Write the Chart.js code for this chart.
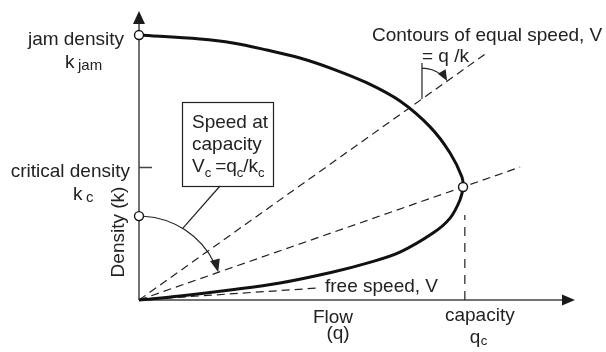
<!DOCTYPE html>
<html>
<head>
<meta charset="utf-8">
<script src="https://cdn.jsdelivr.net/npm/chart.js@4.4.0/dist/chart.umd.min.js"></script>
<style>
  html, body { margin: 0; padding: 0; background: #fff; }
  #wrap { width: 606px; height: 352px; }
</style>
</head>
<body>
<div id="wrap"><canvas id="fundamental"></canvas></div>
<script>
// flow-density curve (q in veh/h, k in veh/km)
const curveFlow = [0, 228, 506, 783, 1078, 1267, 1450, 1633, 1728, 1783, 1800, 1794, 1728, 1617, 1450, 1267, 1078, 894, 711, 522, 339, 0];
const curveDensity = [0, 1.8, 4.5, 7.7, 12.7, 16.7, 21.7, 30.3, 37.1, 45.3, 51.2, 55.7, 66.6, 78.4, 90.1, 98.3, 104.6, 109.6, 113.2, 116.4, 118.2, 120];

const jamDensity = 120;
const criticalDensity = 60;
const capacityFlow = 1800;
const capacityDensity = 51.2;
const capacityLineFlow = 1810;
const capacityLineTop = 38.5;
const speedArcDensity = 38;

// dashed rays from the origin, [flow, density] at the far end
const contourRay = [1939, 112.3];
const capacityRay = [2117, 60.2];
const freeSpeedRay = [989, 5.4];
const contourNoteFlow = 1572;
const contourNoteTop = 107.3;

const flowMax = 2422;
const densityMax = 130.9;

const FONT = '"Liberation Sans", Arial, Helvetica, sans-serif';
const INK = '#222';

function ray(end) {
  return [{ x: 0, y: 0 }, { x: end[0], y: end[1] }];
}

function dashed(data, dash) {
  return {
    data: data,
    showLine: true,
    borderColor: INK,
    borderWidth: 1.2,
    borderDash: dash || [8, 5],
    pointRadius: 0,
    fill: false,
    clip: false
  };
}

function arrowHead(ctx, x, y, ang, len, half) {
  ctx.beginPath();
  ctx.moveTo(x, y);
  ctx.lineTo(x - len * Math.cos(ang) + half * Math.sin(ang), y - len * Math.sin(ang) - half * Math.cos(ang));
  ctx.lineTo(x - len * Math.cos(ang) - half * Math.sin(ang), y - len * Math.sin(ang) + half * Math.cos(ang));
  ctx.closePath();
  ctx.fill();
}

function text(ctx, s, x, y, size, align) {
  ctx.font = size + 'px ' + FONT;
  ctx.textAlign = align || 'left';
  ctx.fillText(s, x, y);
  return ctx.measureText(s).width;
}

const notes = {
  id: 'notes',
  beforeDatasetsDraw(chart) {
    const ctx = chart.ctx;
    const sx = chart.scales.x, sy = chart.scales.y;
    const ox = sx.getPixelForValue(0), oy = sy.getPixelForValue(0);
    const area = chart.chartArea;
    ctx.save();
    ctx.strokeStyle = '#444';
    ctx.fillStyle = '#1a1a1a';
    ctx.lineWidth = 1.5;
    // axes
    ctx.beginPath();
    ctx.moveTo(ox, oy);
    ctx.lineTo(ox, area.top + 12);
    ctx.moveTo(ox, oy);
    ctx.lineTo(area.right - 12, oy);
    // critical density tick
    const kc = sy.getPixelForValue(criticalDensity);
    ctx.moveTo(ox, kc);
    ctx.lineTo(ox + 13, kc);
    ctx.stroke();
    arrowHead(ctx, ox, area.top, -Math.PI / 2, 13, 6);
    arrowHead(ctx, area.right, oy, 0, 13, 5.5);
    ctx.restore();
  },
  afterDatasetsDraw(chart) {
    const ctx = chart.ctx;
    const sx = chart.scales.x, sy = chart.scales.y;
    const ox = sx.getPixelForValue(0), oy = sy.getPixelForValue(0);
    ctx.save();
    ctx.strokeStyle = INK;
    ctx.fillStyle = INK;
    ctx.lineWidth = 1.2;

    // speed-at-capacity arc round the origin
    const r = oy - sy.getPixelForValue(speedArcDensity);
    const endAng = Math.atan2(sy.getPixelForValue(capacityRay[1]) - oy, sx.getPixelForValue(capacityRay[0]) - ox);
    ctx.beginPath();
    ctx.arc(ox, oy, r, -Math.PI / 2 + 4.5 / r, endAng - 10 / r);
    ctx.stroke();
    arrowHead(ctx, ox + r * Math.cos(endAng), oy + r * Math.sin(endAng), endAng + Math.PI / 2 + 0.08, 13, 5);

    // leader from the box to the arc
    const la = -Math.PI / 2 + 0.548;
    ctx.beginPath();
    ctx.moveTo(220, 186);
    ctx.lineTo(ox + r * Math.cos(la), oy + r * Math.sin(la));
    ctx.stroke();

    // box
    ctx.strokeRect(182.5, 102.5, 91, 84);
    text(ctx, 'Speed at', 192, 128, 19);
    text(ctx, 'capacity', 192, 150, 19);
    let x = 192;
    x += text(ctx, 'V', x, 172, 19);
    x += text(ctx, 'c', x, 177, 13);
    x += text(ctx, '=q', x + 4, 172, 19) + 4;
    x += text(ctx, 'c', x, 177, 13);
    x += text(ctx, '/k', x, 172, 19);
    text(ctx, 'c', x, 177, 13);

    // contours of equal speed annotation
    const cx = sx.getPixelForValue(contourNoteFlow);
    const cy = sy.getPixelForValue(contourNoteFlow * contourRay[1] / contourRay[0]);
    const topY = sy.getPixelForValue(contourNoteTop);
    ctx.beginPath();
    ctx.moveTo(cx, cy);
    ctx.lineTo(cx, topY);
    ctx.stroke();
    const cAng = Math.atan2(sy.getPixelForValue(contourRay[1]) - oy, sx.getPixelForValue(contourRay[0]) - ox);
    const cr = cy - topY - 5;
    ctx.beginPath();
    ctx.arc(cx, cy, cr, -Math.PI / 2, cAng - 9 / cr);
    ctx.stroke();
    arrowHead(ctx, cx + cr * Math.cos(cAng), cy + cr * Math.sin(cAng), cAng + Math.PI / 2 + 0.1, 11, 4.5);
    text(ctx, 'Contours of equal speed, V', 372, 41, 19);
    text(ctx, '= q /k', cx, 62, 19);

    // axis labels
    const jy = sy.getPixelForValue(jamDensity);
    text(ctx, 'jam density', ox - 15, jy + 10, 19, 'right');
    text(ctx, 'k', 65, 68, 19);
    text(ctx, 'jam', 78, 70, 15);
    const ky = sy.getPixelForValue(criticalDensity);
    text(ctx, 'critical density', ox - 9, ky + 9, 19, 'right');
    text(ctx, 'k', 73, 200, 19);
    text(ctx, 'c', 86, 202, 15);

    ctx.save();
    ctx.translate(119, 232);
    ctx.rotate(-Math.PI / 2);
    ctx.textBaseline = 'middle';
    text(ctx, 'Density (k)', 0, 0, 19, 'center');
    ctx.restore();

    text(ctx, 'Flow', 333, 323, 19, 'center');
    text(ctx, '(q)', 338, 339, 19, 'center');
    const qx = sx.getPixelForValue(capacityLineFlow);
    text(ctx, 'capacity', qx + 15, 321, 19, 'center');
    text(ctx, 'q', qx + 5, 343, 19);
    text(ctx, 'c', qx + 16, 345, 13);
    text(ctx, 'free speed, V', 325, 292, 19);
    ctx.restore();
  }
};

const ctx = document.getElementById('fundamental').getContext('2d');
const fundamentalChart = new Chart(ctx, {
  type: 'scatter',
  data: {
    datasets: [
      {
        data: [
          { x: 0, y: jamDensity },
          { x: capacityFlow, y: capacityDensity },
          { x: 0, y: speedArcDensity }
        ],
        pointRadius: 4.5,
        pointBackgroundColor: '#fff',
        pointBorderColor: '#111',
        pointBorderWidth: 1.4,
        showLine: false,
        clip: false
      },
      {
        data: curveFlow.map((q, i) => ({ x: q, y: curveDensity[i] })),
        showLine: true,
        borderColor: '#111',
        borderWidth: 3,
        tension: 0.35,
        pointRadius: 0,
        fill: false,
        clip: false
      },
      dashed(ray(contourRay)),
      dashed(ray(capacityRay)),
      dashed(ray(freeSpeedRay)),
      dashed([{ x: capacityLineFlow, y: 0 }, { x: capacityLineFlow, y: capacityLineTop }], [9, 7])
    ]
  },
  options: {
    responsive: true,
    maintainAspectRatio: false,
    animation: false,
    layout: {
      padding: { left: 139, right: 31, top: 11, bottom: 52 }
    },
    scales: {
      x: { type: 'linear', min: 0, max: flowMax, display: false },
      y: { type: 'linear', min: 0, max: densityMax, display: false }
    },
    plugins: {
      legend: { display: false },
      tooltip: { enabled: false }
    }
  },
  plugins: [notes]
});
</script>
</body>
</html>
